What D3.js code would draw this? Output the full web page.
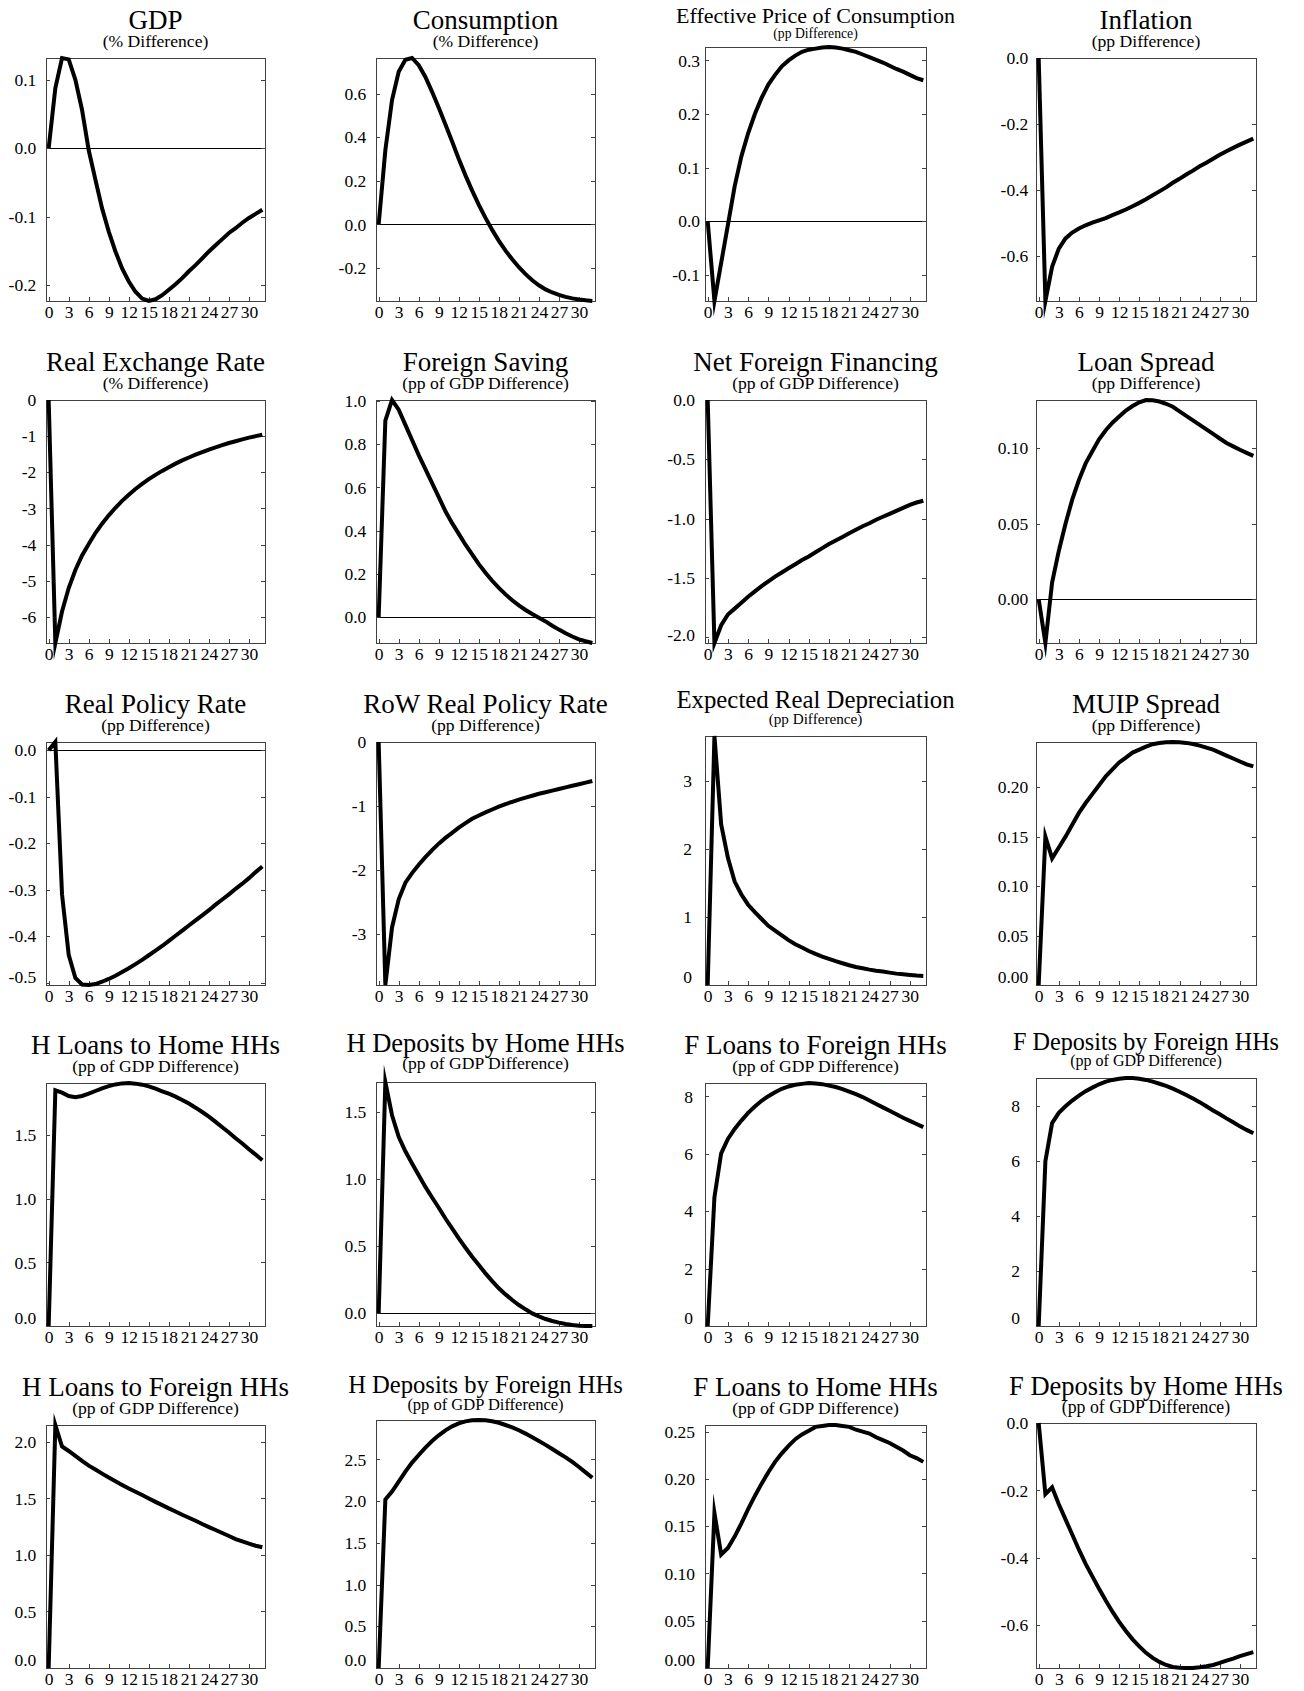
<!DOCTYPE html>
<meta charset="utf-8">
<head>
	<title> Impulse Responses </title>
	<style>
		body { margin: 0; background: #fff; }
		svg { display: block; background: #fff; }
		text { font-family: "Liberation Serif", "DejaVu Serif", serif; fill: #000; }
		.axis text { font-family: "Liberation Serif", serif; font-size: 17.5px; fill: #000; }
		.axis line { stroke: #404040; shape-rendering: crispEdges; }
		.frame { fill: none; stroke: #404040; stroke-width: 1px; shape-rendering: crispEdges; }
		.zero { stroke: #000; stroke-width: 1px; shape-rendering: crispEdges; }
		.irf { fill: none; stroke: #000; stroke-width: 4px; stroke-linejoin: miter; stroke-miterlimit: 10; }
	</style>
</head>
<body>
	<div id="chart"></div>
</body>

<script src="https://cdnjs.cloudflare.com/ajax/libs/d3/7.8.5/d3.min.js"></script>

<script type="text/javascript">

	// Responses, periods 0..32
	var gdp = [0, 0.088, 0.132, 0.13, 0.10, 0.056, -0.003, -0.046, -0.088, -0.122, -0.151, -0.176, -0.195, -0.21, -0.22, -0.2235, -0.221, -0.215, -0.207, -0.199, -0.19, -0.18, -0.171, -0.161, -0.151, -0.142, -0.133, -0.124, -0.117, -0.109, -0.102, -0.096, -0.09];
	var consumption = [0, 0.34, 0.57, 0.70, 0.755, 0.763, 0.73, 0.676, 0.608, 0.535, 0.458, 0.38, 0.30, 0.225, 0.155, 0.09, 0.03, -0.025, -0.075, -0.12, -0.16, -0.196, -0.228, -0.256, -0.279, -0.298, -0.312, -0.323, -0.332, -0.339, -0.344, -0.348, -0.351];
	var effPrice = [0, -0.149, -0.078, -0.007, 0.065, 0.121, 0.164, 0.2, 0.23, 0.255, 0.273, 0.289, 0.30, 0.309, 0.316, 0.32, 0.322, 0.324, 0.325, 0.324, 0.322, 0.319, 0.316, 0.311, 0.306, 0.301, 0.296, 0.29, 0.284, 0.279, 0.273, 0.267, 0.263];
	var inflation = [0, -0.738, -0.634, -0.579, -0.548, -0.53, -0.518, -0.508, -0.5, -0.493, -0.486, -0.477, -0.469, -0.46, -0.45, -0.44, -0.429, -0.417, -0.405, -0.393, -0.379, -0.367, -0.354, -0.342, -0.329, -0.318, -0.306, -0.294, -0.283, -0.273, -0.263, -0.254, -0.245];
	var rer = [0, -6.72, -5.85, -5.2, -4.7, -4.3, -3.98, -3.68, -3.42, -3.19, -2.98, -2.79, -2.62, -2.46, -2.32, -2.19, -2.07, -1.96, -1.86, -1.76, -1.67, -1.59, -1.51, -1.44, -1.37, -1.31, -1.25, -1.19, -1.14, -1.09, -1.04, -1.0, -0.96];
	var foreignSaving = [0, 0.91, 1.005, 0.96, 0.89, 0.82, 0.75, 0.685, 0.62, 0.555, 0.49, 0.435, 0.385, 0.335, 0.29, 0.245, 0.205, 0.168, 0.135, 0.105, 0.078, 0.054, 0.033, 0.014, -0.003, -0.02, -0.04, -0.058, -0.075, -0.09, -0.103, -0.112, -0.12];
	var netForeign = [0, -2.05, -1.9, -1.81, -1.76, -1.71, -1.66, -1.615, -1.57, -1.53, -1.49, -1.455, -1.42, -1.385, -1.35, -1.32, -1.285, -1.25, -1.215, -1.185, -1.155, -1.125, -1.095, -1.065, -1.04, -1.01, -0.985, -0.96, -0.935, -0.91, -0.885, -0.865, -0.85];
	var loanSpread = [0, -0.029, 0.011, 0.032, 0.05, 0.066, 0.079, 0.09, 0.098, 0.106, 0.112, 0.117, 0.121, 0.125, 0.128, 0.1305, 0.132, 0.1318, 0.131, 0.1295, 0.1275, 0.1245, 0.1215, 0.1185, 0.1155, 0.1125, 0.1095, 0.1065, 0.1035, 0.1013, 0.099, 0.097, 0.095];
	var realPolicy = [0, 0.018, -0.31, -0.44, -0.49, -0.504, -0.505, -0.503, -0.498, -0.492, -0.485, -0.477, -0.469, -0.46, -0.451, -0.441, -0.431, -0.421, -0.41, -0.399, -0.388, -0.377, -0.366, -0.355, -0.344, -0.332, -0.321, -0.31, -0.298, -0.287, -0.275, -0.262, -0.25];
	var rowPolicy = [0, -3.8, -2.9, -2.46, -2.2, -2.05, -1.92, -1.8, -1.69, -1.59, -1.5, -1.42, -1.34, -1.27, -1.2, -1.15, -1.1, -1.055, -1.01, -0.97, -0.935, -0.9, -0.87, -0.84, -0.81, -0.785, -0.76, -0.735, -0.71, -0.685, -0.66, -0.635, -0.61];
	var expDepreciation = [0, 3.66, 2.36, 1.87, 1.52, 1.33, 1.18, 1.07, 0.97, 0.87, 0.8, 0.73, 0.66, 0.6, 0.55, 0.5, 0.457, 0.418, 0.383, 0.35, 0.32, 0.29, 0.265, 0.246, 0.226, 0.21, 0.197, 0.182, 0.167, 0.157, 0.147, 0.138, 0.133];
	var muipSpread = [0, 0.15, 0.128, 0.139, 0.15, 0.162, 0.174, 0.184, 0.193, 0.202, 0.211, 0.218, 0.225, 0.23, 0.235, 0.238, 0.241, 0.2435, 0.2446, 0.2455, 0.2457, 0.2455, 0.2448, 0.2437, 0.242, 0.24, 0.238, 0.235, 0.232, 0.229, 0.226, 0.223, 0.221];
	var hLoansHome = [0, 1.853, 1.835, 1.809, 1.80, 1.809, 1.827, 1.848, 1.869, 1.887, 1.9, 1.908, 1.911, 1.906, 1.898, 1.885, 1.866, 1.846, 1.827, 1.804, 1.777, 1.749, 1.717, 1.683, 1.647, 1.605, 1.563, 1.522, 1.476, 1.435, 1.39, 1.348, 1.304];
	var hDepositsHome = [0, 1.72, 1.473, 1.312, 1.205, 1.114, 1.027, 0.94, 0.861, 0.785, 0.705, 0.631, 0.557, 0.488, 0.421, 0.359, 0.297, 0.24, 0.186, 0.141, 0.099, 0.062, 0.03, 0, -0.022, -0.042, -0.057, -0.069, -0.079, -0.087, -0.092, -0.094, -0.094];
	var fLoansForeign = [0, 4.49, 6.02, 6.52, 6.87, 7.16, 7.43, 7.65, 7.85, 8.01, 8.15, 8.27, 8.35, 8.41, 8.44, 8.47, 8.45, 8.43, 8.38, 8.33, 8.26, 8.17, 8.08, 7.98, 7.86, 7.74, 7.62, 7.5, 7.38, 7.26, 7.15, 7.04, 6.93];
	var fDepositsForeign = [0, 6.0, 7.39, 7.76, 8.0, 8.21, 8.39, 8.55, 8.68, 8.8, 8.9, 8.96, 9.0, 9.03, 9.03, 9.0, 8.96, 8.9, 8.82, 8.74, 8.64, 8.53, 8.41, 8.28, 8.15, 8.0, 7.85, 7.71, 7.56, 7.42, 7.27, 7.14, 7.02];
	var hLoansForeign = [0, 2.15, 1.96, 1.92, 1.876, 1.832, 1.79, 1.756, 1.72, 1.685, 1.653, 1.62, 1.588, 1.559, 1.53, 1.5, 1.47, 1.441, 1.412, 1.385, 1.356, 1.329, 1.303, 1.274, 1.247, 1.221, 1.194, 1.168, 1.141, 1.12, 1.1, 1.082, 1.068];
	var hDepositsForeign = [0, 2.02, 2.115, 2.235, 2.354, 2.462, 2.554, 2.642, 2.721, 2.789, 2.849, 2.897, 2.933, 2.957, 2.969, 2.973, 2.969, 2.957, 2.94, 2.913, 2.885, 2.85, 2.81, 2.765, 2.72, 2.675, 2.625, 2.575, 2.525, 2.47, 2.41, 2.345, 2.28];
	var fLoansHome = [0, 0.164, 0.12, 0.127, 0.139, 0.153, 0.168, 0.182, 0.195, 0.207, 0.218, 0.227, 0.235, 0.242, 0.247, 0.251, 0.255, 0.256, 0.257, 0.257, 0.256, 0.255, 0.252, 0.25, 0.248, 0.244, 0.241, 0.238, 0.234, 0.23, 0.225, 0.222, 0.218];
	var fDepositsHome = [0, -0.211, -0.191, -0.241, -0.286, -0.331, -0.376, -0.418, -0.455, -0.492, -0.527, -0.56, -0.59, -0.617, -0.642, -0.663, -0.682, -0.697, -0.709, -0.718, -0.724, -0.726, -0.727, -0.727, -0.725, -0.722, -0.718, -0.712, -0.705, -0.699, -0.692, -0.686, -0.68];

	// Tick labels
	var xTickLabels = [0, 3, 6, 9, 12, 15, 18, 21, 24, 27, 30];

	var panels = [
		{title: "GDP", sub: "(% Difference)", values: gdp, ticks: ["0.1", "0.0", "-0.1", "-0.2"]},
		{title: "Consumption", sub: "(% Difference)", values: consumption, ticks: ["0.6", "0.4", "0.2", "0.0", "-0.2"]},
		{title: "Effective Price of Consumption", sub: "(pp Difference)", values: effPrice, ticks: ["0.3", "0.2", "0.1", "0.0", "-0.1"]},
		{title: "Inflation", sub: "(pp Difference)", values: inflation, ticks: ["0.0", "-0.2", "-0.4", "-0.6"]},
		{title: "Real Exchange Rate", sub: "(% Difference)", values: rer, ticks: ["0", "-1", "-2", "-3", "-4", "-5", "-6"]},
		{title: "Foreign Saving", sub: "(pp of GDP Difference)", values: foreignSaving, ticks: ["1.0", "0.8", "0.6", "0.4", "0.2", "0.0"]},
		{title: "Net Foreign Financing", sub: "(pp of GDP Difference)", values: netForeign, ticks: ["0.0", "-0.5", "-1.0", "-1.5", "-2.0"]},
		{title: "Loan Spread", sub: "(pp Difference)", values: loanSpread, ticks: ["0.10", "0.05", "0.00"]},
		{title: "Real Policy Rate", sub: "(pp Difference)", values: realPolicy, ticks: ["0.0", "-0.1", "-0.2", "-0.3", "-0.4", "-0.5"]},
		{title: "RoW Real Policy Rate", sub: "(pp Difference)", values: rowPolicy, ticks: ["0", "-1", "-2", "-3"]},
		{title: "Expected Real Depreciation", sub: "(pp Difference)", values: expDepreciation, ticks: ["3", "2", "1", "0"]},
		{title: "MUIP Spread", sub: "(pp Difference)", values: muipSpread, ticks: ["0.20", "0.15", "0.10", "0.05", "0.00"]},
		{title: "H Loans to Home HHs", sub: "(pp of GDP Difference)", values: hLoansHome, ticks: ["1.5", "1.0", "0.5", "0.0"]},
		{title: "H Deposits by Home HHs", sub: "(pp of GDP Difference)", values: hDepositsHome, ticks: ["1.5", "1.0", "0.5", "0.0"]},
		{title: "F Loans to Foreign HHs", sub: "(pp of GDP Difference)", values: fLoansForeign, ticks: ["8", "6", "4", "2", "0"]},
		{title: "F Deposits by Foreign HHs", sub: "(pp of GDP Difference)", values: fDepositsForeign, ticks: ["8", "6", "4", "2", "0"]},
		{title: "H Loans to Foreign HHs", sub: "(pp of GDP Difference)", values: hLoansForeign, ticks: ["2.0", "1.5", "1.0", "0.5", "0.0"]},
		{title: "H Deposits by Foreign HHs", sub: "(pp of GDP Difference)", values: hDepositsForeign, ticks: ["2.5", "2.0", "1.5", "1.0", "0.5", "0.0"]},
		{title: "F Loans to Home HHs", sub: "(pp of GDP Difference)", values: fLoansHome, ticks: ["0.25", "0.20", "0.15", "0.10", "0.05", "0.00"]},
		{title: "F Deposits by Home HHs", sub: "(pp of GDP Difference)", values: fDepositsHome, ticks: ["0.0", "-0.2", "-0.4", "-0.6"]}
	];

	// Grid geometry
	var width = 1304;
	var height = 1691;
	var colLeft = [46, 376, 705, 1036];
	var colRight = [265, 595, 926, 1256];
	var rowBottom = [301, 643, 985, 1326, 1668];
	var colGap = [9.7, 9.7, 10, 7.7];

	// panels whose long titles were shrunk to fit
	var custom = {
		2: {h: 254, ts: 22, ss: 13.7, tOff: 24, sOff: 9, gap: 5},
		10: {h: 249, ts: 24.8, ss: 15.2, tOff: 28.5, sOff: 12.5, gap: 13},
		13: {h: 244, ts: 26.5, ss: 17.6, tOff: 30, sOff: 13.5},
		14: {gap: 12},
		15: {h: 248, ts: 24.2, ss: 16, tOff: 28, sOff: 11.6, gap: 16},
		17: {h: 248, ts: 24.6, ss: 16.5, tOff: 26.7, sOff: 10},
		19: {h: 245, ts: 26.5, ss: 17.8, tOff: 28.3, sOff: 10}
	};

	var svg = d3.select("#chart").append("svg")
		.attr("width", width)
		.attr("height", height);

	panels.forEach(function (p, i) {
		var c = i % 4, r = Math.floor(i / 4);
		var o = Object.assign({h: 243, ts: 27, ss: 17.6, tOff: 29.5, sOff: 11, gap: colGap[c]}, custom[i] || {});
		var x0 = colLeft[c], x1 = colRight[c], y1 = rowBottom[r], y0 = y1 - o.h;

		var x = d3.scaleLinear().domain([-0.4, 32.4]).range([x0, x1]);
		var ext = d3.extent(p.values);
		var y = d3.scaleLinear().domain(ext).range([y1, y0]);
		var tickVals = p.ticks.map(Number);

		var g = svg.append("g");

		// titles
		g.append("text")
			.attr("x", (x0 + x1) / 2)
			.attr("y", y0 - o.tOff)
			.attr("text-anchor", "middle")
			.attr("font-size", o.ts)
			.text(p.title);
		g.append("text")
			.attr("x", (x0 + x1) / 2)
			.attr("y", y0 - o.sOff)
			.attr("text-anchor", "middle")
			.attr("font-size", o.ss)
			.text(p.sub);

		// frame
		g.append("rect")
			.attr("class", "frame")
			.attr("x", x0 + 0.5)
			.attr("y", Math.round(y0) + 0.5)
			.attr("width", x1 - x0)
			.attr("height", Math.round(y1) - Math.round(y0));

		// zero line
		if (ext[0] < 0 && ext[1] > 0) {
			g.append("line")
				.attr("class", "zero")
				.attr("x1", x0).attr("x2", x1)
				.attr("y1", y(0)).attr("y2", y(0));
		}

		// left axis, ticks inward
		var yl = g.append("g")
			.attr("class", "axis")
			.attr("transform", "translate(" + x0 + ",0)")
			.call(d3.axisLeft(y).tickValues(tickVals).tickSize(-4).tickPadding(o.gap)
				.tickFormat(function (d, k) { return p.ticks[k]; }));
		yl.select(".domain").remove();
		yl.selectAll("text")
			.attr("dy", null)
			.attr("y", function (d) { return Math.min(y(d) + 5.6, y1 - 3) - y(d); });

		// right axis, ticks only
		var yr = g.append("g")
			.attr("class", "axis")
			.attr("transform", "translate(" + x1 + ",0)")
			.call(d3.axisRight(y).tickValues(tickVals).tickSize(-4).tickFormat(""));
		yr.select(".domain").remove();

		// bottom axis
		var xb = g.append("g")
			.attr("class", "axis")
			.attr("transform", "translate(0," + y1 + ")")
			.call(d3.axisBottom(x).tickValues(xTickLabels).tickSize(-4).tickPadding(4.6));
		xb.select(".domain").remove();

		// response line
		g.append("path")
			.datum(p.values)
			.attr("class", "irf")
			.attr("d", d3.line()
				.x(function (d, k) { return x(k); })
				.y(function (d) { return y(d); }));
	});

</script>
</html>
